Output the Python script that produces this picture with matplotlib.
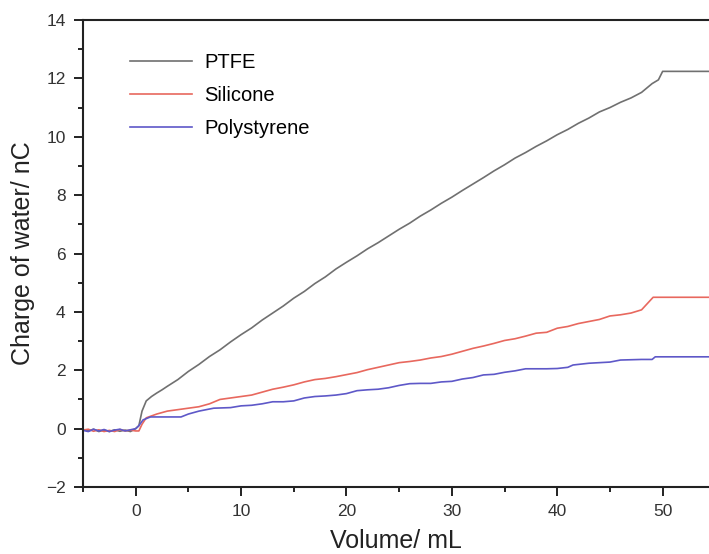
import matplotlib
matplotlib.use("Agg")
import matplotlib.pyplot as plt
from matplotlib.ticker import MultipleLocator

plt.rcParams["font.family"] = ["Liberation Sans", "DejaVu Sans"]

# 각 시리즈 값
ptfe_x = [-5, -4.5, -4, -3.5, -3, -2.5, -2, -1.5, -1, -0.5, 0, 0.3, 0.6, 1, 1.5, 2, 2.5, 3,
          4, 5, 6, 7, 8, 9, 10, 11, 12, 13, 14, 15, 16, 17, 18, 19, 20, 21, 22, 23, 24, 25,
          26, 27, 28, 29, 30, 31, 32, 33, 34, 35, 36, 37, 38, 39, 40, 41, 42, 43, 44, 45,
          46, 47, 48, 49, 49.6, 50, 55]
ptfe_y = [-0.03, -0.08, -0.02, -0.1, -0.05, -0.1, -0.04, -0.09, -0.05, -0.1, 0.0, 0.1, 0.6,
          0.95, 1.1, 1.22, 1.33, 1.45, 1.68, 1.96, 2.2, 2.47, 2.7, 2.97, 3.22, 3.45, 3.72,
          3.96, 4.2, 4.47, 4.7, 4.97, 5.2, 5.47, 5.7, 5.92, 6.16, 6.37, 6.6, 6.83, 7.04,
          7.28, 7.49, 7.72, 7.93, 8.16, 8.38, 8.6, 8.83, 9.04, 9.27, 9.46, 9.67, 9.86,
          10.07, 10.25, 10.46, 10.64, 10.85, 11.0, 11.18, 11.33, 11.52, 11.82, 11.95,
          12.24, 12.24]

silicone_x = [-5, -4.5, -4, -3.5, -3, -2.5, -2, -1.5, -1, -0.5, 0, 0.3, 0.6, 1, 2, 3, 4, 5,
              6, 7, 8, 9, 10, 11, 12, 13, 14, 15, 16, 17, 18, 19, 20, 21, 22, 23, 24, 25,
              26, 27, 28, 29, 30, 31, 32, 33, 34, 35, 36, 37, 38, 39, 40, 41, 42, 43, 44,
              45, 46, 47, 48, 49.1, 55]
silicone_y = [-0.05, -0.02, -0.09, -0.04, -0.1, -0.06, -0.1, -0.03, -0.08, -0.05, -0.08,
              -0.08, 0.15, 0.37, 0.5, 0.6, 0.65, 0.7, 0.75, 0.85, 1.0, 1.05, 1.1, 1.15,
              1.25, 1.35, 1.42, 1.5, 1.6, 1.68, 1.72, 1.78, 1.85, 1.92, 2.02, 2.1, 2.18,
              2.26, 2.3, 2.35, 2.42, 2.47, 2.55, 2.65, 2.75, 2.83, 2.92, 3.02, 3.08, 3.17,
              3.27, 3.3, 3.44, 3.5, 3.6, 3.67, 3.74, 3.86, 3.9, 3.96, 4.07, 4.5, 4.5]

poly_x = [-5, -4.5, -4, -3.5, -3, -2.5, -2, -1.5, -1, -0.5, 0, 0.3, 0.7, 1.4, 4.3, 5, 6,
          7.4, 9, 10, 11, 12, 13, 14, 15, 16, 17, 18, 19, 20, 21, 22, 23, 24, 25, 26, 27,
          28, 29, 30, 31, 32, 33, 34, 35, 36, 37, 38, 39, 40, 41, 41.5, 42, 43, 44, 45,
          46, 47, 48, 49, 49.3, 55]
poly_y = [-0.06, -0.1, -0.02, -0.08, -0.03, -0.1, -0.05, -0.02, -0.08, -0.04, 0.0, 0.1,
          0.3, 0.4, 0.4, 0.5, 0.6, 0.7, 0.72, 0.78, 0.8, 0.85, 0.92, 0.92, 0.95, 1.05, 1.1,
          1.12, 1.15, 1.2, 1.3, 1.33, 1.35, 1.4, 1.48, 1.54, 1.55, 1.55, 1.6, 1.62, 1.7,
          1.75, 1.84, 1.86, 1.93, 1.98, 2.05, 2.05, 2.05, 2.06, 2.1, 2.18, 2.2, 2.24, 2.26,
          2.28, 2.35, 2.36, 2.37, 2.37, 2.46, 2.46]

labels = ["PTFE", "Silicone", "Polystyrene"]
colors = ["#707070", "#e8685e", "#5e58c8"]

fig = plt.figure(figsize=(7.09, 5.54), dpi=100)
ax = fig.add_axes([83 / 709, 67 / 554, 626 / 709, 467 / 554])

for xs, ys, lab, c in zip([ptfe_x, silicone_x, poly_x], [ptfe_y, silicone_y, poly_y],
                          labels, colors):
    ax.plot(xs, ys, color=c, lw=1.2, label=lab)

ax.set_xlim(-5, 54.4)
ax.set_ylim(-2, 14)
ax.xaxis.set_major_locator(MultipleLocator(10))
ax.xaxis.set_minor_locator(MultipleLocator(5))
ax.yaxis.set_major_locator(MultipleLocator(2))
ax.yaxis.set_minor_locator(MultipleLocator(1))
ax.tick_params(which="both", direction="out", width=1.4, colors="#222222",
               labelsize=12.5, labelcolor="#333333", top=False, right=False)
ax.tick_params(which="major", length=6.5, pad=6)
ax.tick_params(which="minor", length=3.6)
ax.spines["right"].set_visible(False)
for s in ["left", "bottom", "top"]:
    ax.spines[s].set_linewidth(1.5)
    ax.spines[s].set_color("#222222")

ax.set_xlabel("Volume/ mL", fontsize=18, labelpad=7, color="#222222")
ax.set_ylabel("Charge of water/ nC", fontsize=18, labelpad=8, color="#222222")

ax.legend(loc="upper left", bbox_to_anchor=(0.075, 0.93), frameon=False, fontsize=14.5,
          handlelength=3.1, handletextpad=0.6, labelspacing=0.7, borderpad=0,
          borderaxespad=0)

fig.savefig("out.png", dpi=100)
